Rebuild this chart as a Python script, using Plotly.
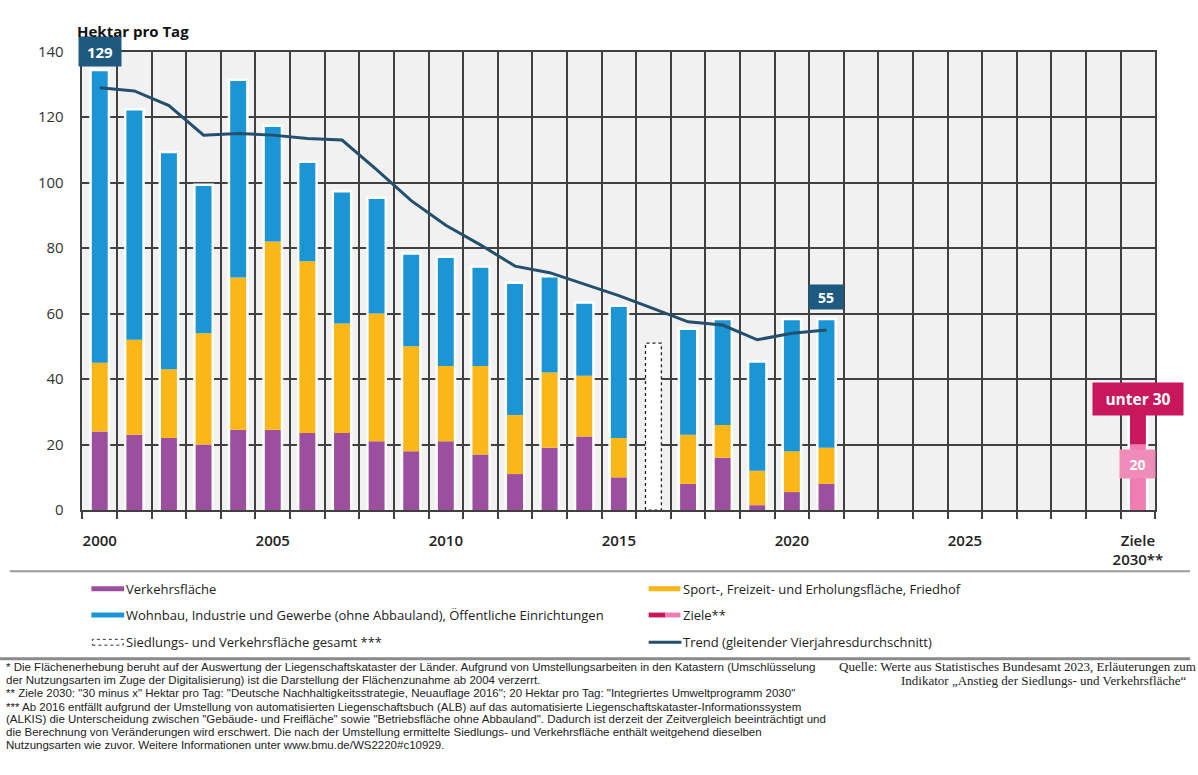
import plotly.graph_objects as go

# ---------------- data ----------------
years = list(range(2000, 2022))
verkehr = [24, 23, 22, 20, 24.5, 24.5, 23.5, 23.5, 21, 18, 21, 17, 11, 19, 22.5, 10, None, 8, 16, 1.5, 5.5, 8]
sport = [21, 29, 21, 34, 46.5, 57.5, 52.5, 33.5, 39, 32, 23, 27, 18, 23, 18.5, 12, None, 15, 10, 10.5, 12.5, 11]
wohnbau = [89, 70, 66, 45, 60, 35, 30, 40, 35, 28, 33, 30, 40, 29, 22, 40, None, 32, 32, 33, 40, 39]
gesamt_2016_year = 2016
gesamt_2016 = 51
trend = [129, 128, 123.5, 114.5, 115, 114.5, 113.5, 113, 104, 94.5, 87, 81, 74.5, 72.5, 69, 65.5, 61.5, 57.5, 56.5, 52, 54, 55]
ziel_year = 2030
ziel_low = 20      # Integriertes Umweltprogramm
ziel_high = 30     # "30 minus x"
x_tickvals = [2000, 2005, 2010, 2015, 2020, 2025, 2030]
x_ticktext = ["2000", "2005", "2010", "2015", "2020", "2025", "Ziele<br>2030**"]
y_ticks = [0, 20, 40, 60, 80, 100, 120, 140]

# ---------------- styles ----------------
C_PURPLE = "#9c4f9f"
C_YELLOW = "#fbb617"
C_BLUE = "#1c95d5"
C_DARKPINK = "#c8175a"
C_PINK = "#f07db2"
C_TREND = "#24506e"
C_LABEL = "#1e5a80"
GRID = "#404040"
BW = 0.46

W, H = 1198, 775
def px(x):
    return x / W
def py(y):
    return 1 - y / H

idx = [i for i, v in enumerate(verkehr) if v is not None]
yrs = [years[i] for i in idx]
v_ = [verkehr[i] for i in idx]
s_ = [sport[i] for i in idx]
w_ = [wohnbau[i] for i in idx]
tot = [a + b + c for a, b, c in zip(v_, s_, w_)]
base_s = v_
base_w = [a + b for a, b in zip(v_, s_)]

all_x = list(range(years[0], ziel_year + 1))

fig = go.Figure()

# white halo behind bars
fig.add_trace(go.Bar(x=yrs + [ziel_year], y=tot + [ziel_high], width=BW,
                     marker=dict(color="white", line=dict(color="white", width=5)),
                     hoverinfo="skip", showlegend=False))

fig.add_trace(go.Bar(x=yrs, y=v_, width=BW, marker=dict(color=C_PURPLE, line_width=0),
                     name="Verkehrsfläche", showlegend=False))
fig.add_trace(go.Bar(x=yrs, y=s_, base=base_s, width=BW, marker=dict(color=C_YELLOW, line_width=0),
                     name="Sport", showlegend=False))
fig.add_trace(go.Bar(x=yrs, y=w_, base=base_w, width=BW, marker=dict(color=C_BLUE, line_width=0),
                     name="Wohnbau", showlegend=False))

# Ziele
fig.add_trace(go.Bar(x=[ziel_year], y=[ziel_low], width=BW, marker=dict(color=C_PINK, line_width=0),
                     showlegend=False))
fig.add_trace(go.Bar(x=[ziel_year], y=[ziel_high - ziel_low], base=[ziel_low], width=BW,
                     marker=dict(color=C_DARKPINK, line_width=0), showlegend=False))

# 2016 dashed total
hw = BW / 2
fig.add_trace(go.Scatter(
    x=[gesamt_2016_year - hw, gesamt_2016_year - hw, gesamt_2016_year + hw, gesamt_2016_year + hw, gesamt_2016_year - hw],
    y=[0, gesamt_2016, gesamt_2016, 0, 0], mode="lines", fill="toself", fillcolor="white",
    line=dict(color="#222", width=1.3, dash="dot"), hoverinfo="skip", showlegend=False))

# trend
fig.add_trace(go.Scatter(x=years, y=trend, mode="lines", line=dict(color=C_TREND, width=3),
                         showlegend=False))

annotations = []
annotations.append(dict(x=years[0], y=trend[0], yshift=36, text="<b>%d</b>" % trend[0], showarrow=False,
                        bgcolor=C_LABEL, font=dict(family="Open Sans", size=15, color="white"),
                        width=34, height=21, borderpad=4))
annotations.append(dict(x=years[-1], y=trend[-1], yshift=33, text="<b>%d</b>" % trend[-1], showarrow=False,
                        bgcolor=C_LABEL, font=dict(family="Open Sans", size=14, color="white"),
                        width=28, height=18, borderpad=3))
annotations.append(dict(x=ziel_year, y=ziel_high, yshift=13, text="<b>unter %d</b>" % ziel_high, showarrow=False,
                        bgcolor=C_DARKPINK, font=dict(family="Open Sans", size=15.5, color="white"),
                        width=80, height=22, borderpad=5))
annotations.append(dict(x=ziel_year, y=ziel_low, yshift=-19, text="<b>%d</b>" % ziel_low, showarrow=False,
                        bgcolor="#f08cb9", font=dict(family="Open Sans", size=14, color="white"),
                        width=27, height=20, borderpad=4))

annotations.append(dict(xref="paper", yref="paper", x=px(76), y=py(21), xanchor="left", yanchor="middle",
                        text="<b>Hektar pro Tag</b>", showarrow=False,
                        font=dict(family="Open Sans", size=15, color="#111")))

shapes = []
# separators
shapes.append(dict(type="line", xref="paper", yref="paper", x0=px(10), x1=1, y0=py(575), y1=py(575),
                   line=dict(color="#9a9a9a", width=2)))
shapes.append(dict(type="line", xref="paper", yref="paper", x0=0, x1=1, y0=py(665), y1=py(665),
                   line=dict(color="#8a8a8a", width=3)))

LEG_FONT = dict(family="Open Sans", size=13, color="#222")
def sw(x0, x1, yc, color, h=5):
    shapes.append(dict(type="rect", xref="paper", yref="paper", x0=px(x0), x1=px(x1),
                       y0=py(yc + h / 2), y1=py(yc - h / 2), fillcolor=color, line_width=0))
def lt(x, yc, text):
    annotations.append(dict(xref="paper", yref="paper", x=px(x), y=py(yc), xanchor="left", yanchor="middle",
                            text=text, showarrow=False, font=LEG_FONT))

sw(92, 125, 593, C_PURPLE); lt(125, 593, "Verkehrsfläche")
sw(92, 125, 620, C_BLUE); lt(125, 620, "Wohnbau, Industrie und Gewerbe (ohne Abbauland), Öffentliche Einrichtungen")
shapes.append(dict(type="rect", xref="paper", yref="paper", x0=px(93), x1=px(124), y0=py(651), y1=py(645),
                   fillcolor="white", line=dict(color="#333", width=1, dash="dot")))
lt(125, 648, "Siedlungs- und Verkehrsfläche gesamt ***")
sw(653, 685, 593, C_YELLOW); lt(686, 593, "Sport-, Freizeit- und Erholungsfläche, Friedhof")
sw(653, 670, 620, C_DARKPINK); sw(670, 685, 620, C_PINK); lt(686, 620, "Ziele**")
shapes.append(dict(type="line", xref="paper", yref="paper", x0=px(653), x1=px(686), y0=py(648), y1=py(648),
                   line=dict(color=C_TREND, width=3)))
lt(686, 648, "Trend (gleitender Vierjahresdurchschnitt)")

foot = [
    "* Die Flächenerhebung beruht auf der Auswertung der Liegenschaftskataster der Länder. Aufgrund von Umstellungsarbeiten in den Katastern (Umschlüsselung",
    "der Nutzungsarten im Zuge der Digitalisierung) ist die Darstellung der Flächenzunahme ab 2004 verzerrt.",
    "** Ziele 2030: \"30 minus x\" Hektar pro Tag: \"Deutsche Nachhaltigkeitsstrategie, Neuauflage 2016\"; 20 Hektar pro Tag: \"Integriertes Umweltprogramm 2030\"",
    "*** Ab 2016 entfällt aufgrund der Umstellung von automatisierten Liegenschaftsbuch (ALB) auf das automatisierte Liegenschaftskataster-Informationssystem",
    "(ALKIS) die Unterscheidung zwischen \"Gebäude- und Freifläche\" sowie \"Betriebsfläche ohne Abbauland\". Dadurch ist derzeit der Zeitvergleich beeinträchtigt und",
    "die Berechnung von Veränderungen wird erschwert. Die nach der Umstellung ermittelte Siedlungs- und Verkehrsfläche enthält weitgehend dieselben",
    "Nutzungsarten wie zuvor. Weitere Informationen unter www.bmu.de/WS2220#c10929.",
]
foot_y = [673, 687, 700, 714, 727, 740, 753]
for t, yy in zip(foot, foot_y):
    annotations.append(dict(xref="paper", yref="paper", x=px(4), y=py(yy), xanchor="left", yanchor="middle",
                            text=t, showarrow=False,
                            font=dict(family="Liberation Sans", size=11.5, color="#222")))
annotations.append(dict(xref="paper", yref="paper", x=px(843), y=py(673), xanchor="left", yanchor="middle",
                        text="Quelle: Werte aus Statistisches Bundesamt 2023, Erläuterungen zum", showarrow=False,
                        font=dict(family="Liberation Serif", size=13, color="#222")))
annotations.append(dict(xref="paper", yref="paper", x=px(1197), y=py(687), xanchor="right", yanchor="middle",
                        text="Indikator „Anstieg der Siedlungs- und Verkehrsfläche“", showarrow=False,
                        font=dict(family="Liberation Serif", size=13, color="#222")))

fig.update_layout(
    width=W, height=H, margin=dict(l=0, r=0, t=0, b=0),
    paper_bgcolor="white", plot_bgcolor="#f1f1f1",
    barmode="overlay", showlegend=False,
    annotations=annotations, shapes=shapes,
    xaxis=dict(domain=[px(83), px(1163)], range=[years[0] - 0.5, ziel_year + 0.5],
               tickmode="array", tickvals=x_tickvals, ticktext=x_ticktext,
               ticks="", showgrid=False, zeroline=False, ticklabelstandoff=16,
               showline=True, mirror=True, linecolor=GRID, linewidth=1.5,
               tickfont=dict(family="Open Sans", size=15, color="#222", weight=600),
               minor=dict(tickvals=[years[0] - 0.5 + k for k in range(len(all_x) + 1)],
                          ticks="outside", ticklen=7, tickwidth=1.5, tickcolor=GRID,
                          showgrid=True, gridcolor=GRID, gridwidth=1.5)),
    yaxis=dict(domain=[py(512.3), py(41.7)], range=[0, 140], tickmode="array", tickvals=y_ticks,
               ticks="", showgrid=True, gridcolor=GRID, gridwidth=1.5, zeroline=False,
               showline=True, mirror=True, linecolor=GRID, linewidth=1.5, ticklabelstandoff=14,
               tickfont=dict(family="Open Sans", size=15, color="#333")),
)

fig.write_html("out.html")
